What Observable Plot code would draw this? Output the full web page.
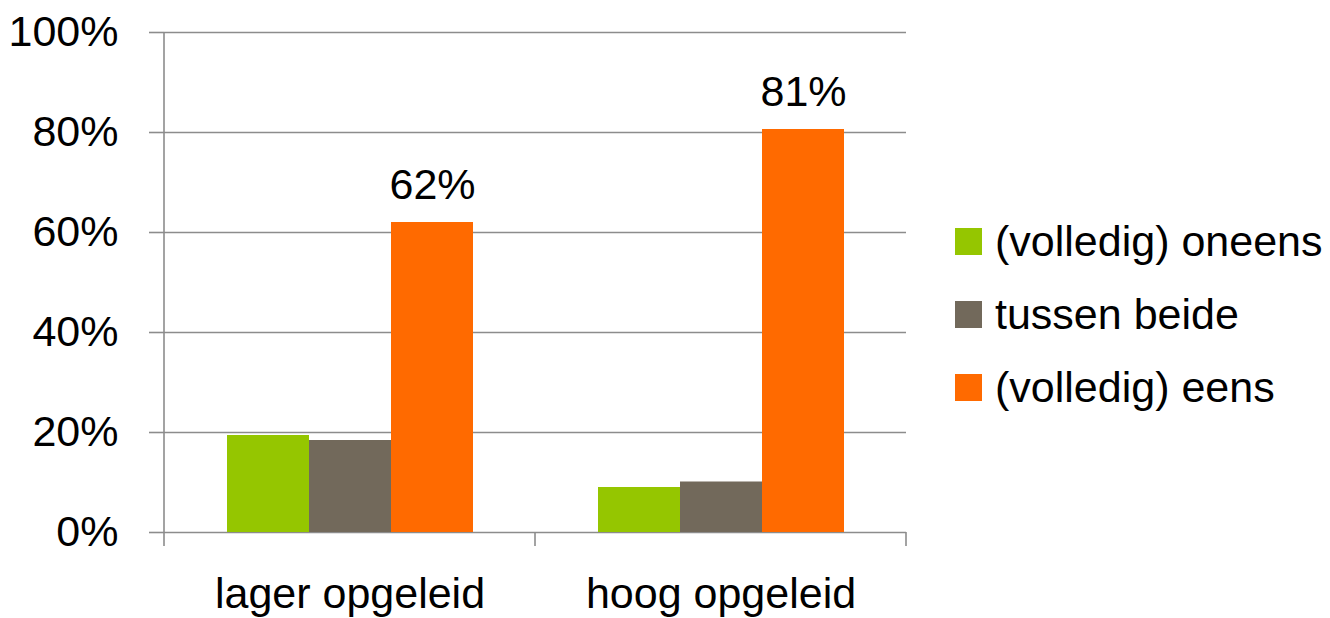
<!DOCTYPE html>
<html>
<head>
<meta charset="utf-8">
<script src="https://cdn.jsdelivr.net/npm/d3@7"></script>
<script src="https://cdn.jsdelivr.net/npm/@observablehq/plot@0.6"></script>
<style>
  html, body { margin: 0; padding: 0; background: #fff; }
  #wrap { position: relative; width: 1330px; height: 618px; font-family: "Liberation Sans", Arial, sans-serif; }
  #legend { position: absolute; left: 955px; top: 205px; }
  .row { display: flex; align-items: center; height: 73px; }
  .sw { width: 27px; height: 27px; margin-right: 13px; }
  .lab { font-size: 43px; color: #000; white-space: nowrap; }
</style>
</head>
<body>
<div id="wrap"><div id="chart"></div><div id="legend"></div></div>
<script>
const categories = ["lager opgeleid", "hoog opgeleid"];
const series = ["(volledig) oneens", "tussen beide", "(volledig) eens"];
const colors = ["#95c600", "#72695b", "#ff6a00"];
const lagerValues = [19.4, 18.4, 62.0];
const hoogValues = [9.0, 10.1, 80.6];
const yTicks = [0, 20, 40, 60, 80, 100];
const labelled = ["(volledig) eens"];

const data = [];
series.forEach((s, i) => {
  data.push({cat: categories[0], series: s, value: lagerValues[i]});
  data.push({cat: categories[1], series: s, value: hoogValues[i]});
});

const gridColor = "#8c8c8c";
const font = "Liberation Sans, Arial, sans-serif";

const plot = Plot.plot({
  width: 940,
  height: 618,
  marginLeft: 163,
  marginRight: 34,
  marginTop: 32,
  marginBottom: 86,
  style: {fontFamily: font, color: "#000", background: "#fff"},
  fx: {domain: categories, padding: 0, axis: null},
  x: {domain: series, paddingInner: 0, paddingOuter: 0.75, axis: null},
  y: {domain: [0, 100], axis: null},
  color: {domain: series, range: colors},
  marks: [
    Plot.ruleY(yTicks, {stroke: gridColor, strokeWidth: 1.6}),
    Plot.barY(data, {fx: "cat", x: "series", y: "value", fill: "series"}),
    Plot.text(data.filter(d => labelled.includes(d.series)), {
      fx: "cat", x: "series", y: "value",
      text: d => Math.round(d.value) + "%",
      dy: -37, lineAnchor: "middle", fontSize: 43, fill: "#000"
    }),
    Plot.axisY({ticks: yTicks, tickSize: 15, tickPadding: 31, stroke: gridColor, strokeWidth: 1.6,
      fontSize: 43, fill: "#000", tickFormat: d => d + "%", label: null}),
    Plot.axisFx({anchor: "bottom", tickSize: 0, tickPadding: 45, fontSize: 43, fill: "#000", label: null})
  ]
});

// axis line and category separator ticks, positioned with Plot's scales
const fx = plot.scale("fx");
const y = plot.scale("y");
const g = d3.select(plot).append("g").attr("stroke", gridColor).attr("stroke-width", 1.6);
const y0 = y.apply(0), y100 = y.apply(100);
const tickLen = 14;
const left = fx.apply(categories[0]);
g.append("line").attr("x1", left).attr("x2", left).attr("y1", y100).attr("y2", y0 + tickLen);
categories.forEach(c => {
  const xr = fx.apply(c) + fx.bandwidth;
  g.append("line").attr("x1", xr).attr("x2", xr).attr("y1", y0).attr("y2", y0 + tickLen);
});

document.getElementById("chart").appendChild(plot);

const legend = document.getElementById("legend");
series.forEach((s, i) => {
  const row = document.createElement("div");
  row.className = "row";
  row.innerHTML = `<div class="sw" style="background:${colors[i]}"></div><div class="lab">${s}</div>`;
  legend.appendChild(row);
});
</script>
</body>
</html>
